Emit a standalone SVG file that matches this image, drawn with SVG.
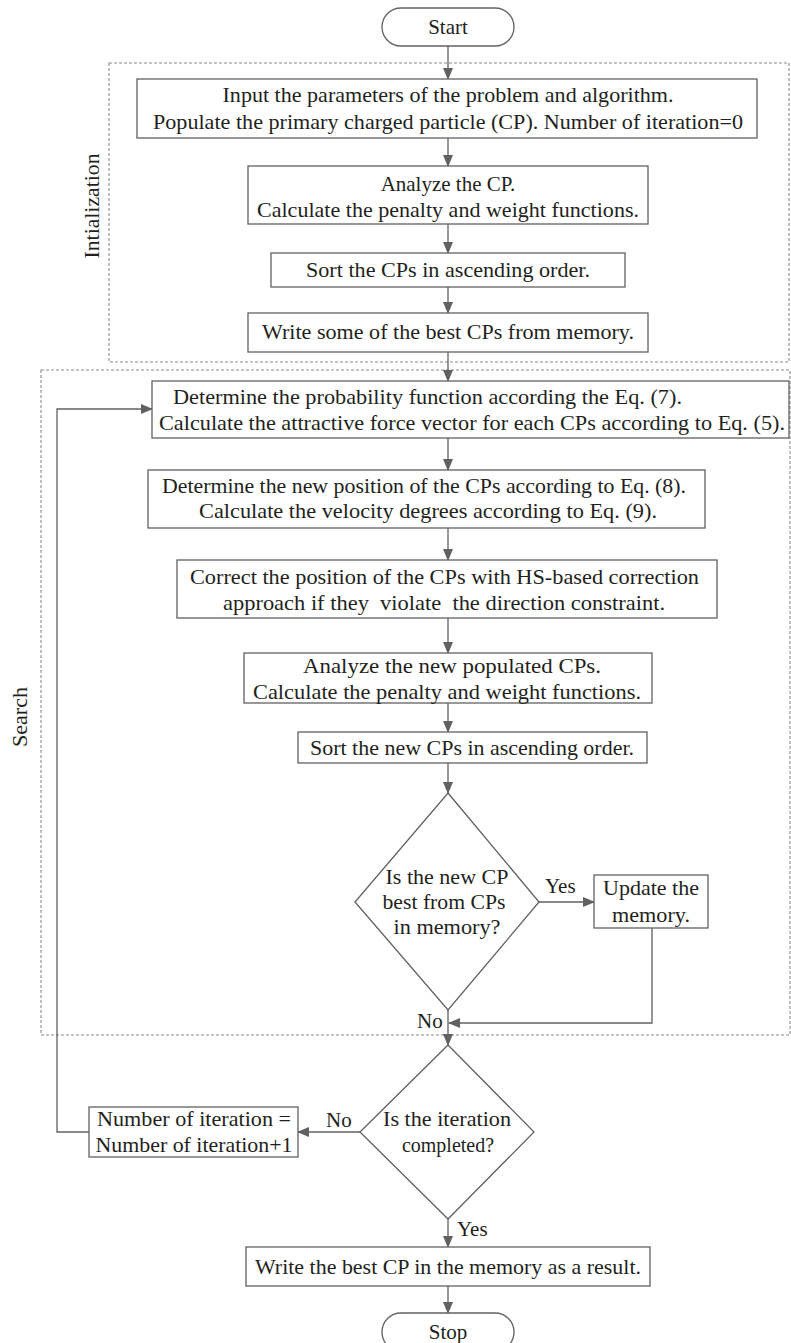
<svg xmlns="http://www.w3.org/2000/svg" width="791" height="1343" viewBox="0 0 791 1343">
<style>
.b{fill:#fff;stroke:#616161;stroke-width:1.3}
.d{fill:none;stroke:#8a8a8a;stroke-width:1.1;stroke-dasharray:3 2}
.c{fill:none;stroke:#616161;stroke-width:1.3}
text{font-family:"Liberation Serif","Times New Roman",serif;font-size:21px;fill:#231f20}
.m{text-anchor:middle}
</style>
<defs>
<marker id="ah" markerWidth="12" markerHeight="10" refX="11" refY="5" orient="auto" markerUnits="userSpaceOnUse">
<path d="M0,0 L12,5 L0,10 z" fill="#616161"/>
</marker>
</defs>
<rect width="791" height="1343" fill="#fff"/>
<g id="groups">
<rect class="d" x="109" y="63" width="680" height="299"/>
<rect class="d" x="41" y="370" width="749" height="665"/>
<text class="m" transform="translate(99,206) rotate(-90)" textLength="105" lengthAdjust="spacingAndGlyphs">Intialization</text>
<text class="m" transform="translate(27,717) rotate(-90)" textLength="60" lengthAdjust="spacingAndGlyphs">Search</text>
</g>
<g id="connectors">
<line class="c" x1="448" y1="46" x2="448" y2="79" marker-end="url(#ah)"/>
<line class="c" x1="448" y1="138" x2="448" y2="166" marker-end="url(#ah)"/>
<line class="c" x1="448" y1="224" x2="448" y2="253" marker-end="url(#ah)"/>
<line class="c" x1="448" y1="287" x2="448" y2="313" marker-end="url(#ah)"/>
<line class="c" x1="448" y1="352" x2="448" y2="381" marker-end="url(#ah)"/>
<line class="c" x1="448" y1="438" x2="448" y2="470" marker-end="url(#ah)"/>
<line class="c" x1="448" y1="528" x2="448" y2="560" marker-end="url(#ah)"/>
<line class="c" x1="448" y1="618" x2="448" y2="653" marker-end="url(#ah)"/>
<line class="c" x1="448" y1="703" x2="448" y2="732" marker-end="url(#ah)"/>
<line class="c" x1="448" y1="763" x2="448" y2="793" marker-end="url(#ah)"/>
<line class="c" x1="539" y1="902" x2="594" y2="902" marker-end="url(#ah)"/>
<polyline class="c" points="652,928 652,1023 449,1023" marker-end="url(#ah)"/>
<line class="c" x1="448" y1="1010" x2="448" y2="1045" marker-end="url(#ah)"/>
<line class="c" x1="360" y1="1132" x2="298" y2="1132" marker-end="url(#ah)"/>
<polyline class="c" points="89,1132 57,1132 57,409 152,409" marker-end="url(#ah)"/>
<line class="c" x1="448" y1="1219" x2="448" y2="1247" marker-end="url(#ah)"/>
<line class="c" x1="448" y1="1286" x2="448" y2="1313" marker-end="url(#ah)"/>
<text x="545" y="893">Yes</text>
<text x="417" y="1028">No</text>
<text x="326" y="1127">No</text>
<text x="457" y="1236">Yes</text>
</g>
<g id="start">
<rect class="b" x="382" y="8" width="132" height="38" rx="19"/>
<text class="m" x="448" y="34">Start</text>
</g>
<g id="input">
<rect class="b" x="137" y="79" width="620" height="59"/>
<text class="m" x="448" y="102" textLength="451" lengthAdjust="spacingAndGlyphs">Input the parameters of the problem and algorithm.</text>
<text class="m" x="448" y="129" textLength="590" lengthAdjust="spacingAndGlyphs">Populate the primary charged particle (CP). Number of iteration=0</text>
</g>
<g id="analyze">
<rect class="b" x="248" y="166" width="400" height="58"/>
<text class="m" x="448" y="191">Analyze the CP.</text>
<text class="m" x="448" y="217" textLength="382" lengthAdjust="spacingAndGlyphs">Calculate the penalty and weight functions.</text>
</g>
<g id="sort">
<rect class="b" x="271" y="253" width="354" height="34"/>
<text class="m" x="448" y="277" textLength="284" lengthAdjust="spacingAndGlyphs">Sort the CPs in ascending order.</text>
</g>
<g id="write">
<rect class="b" x="248" y="313" width="400" height="39"/>
<text class="m" x="448" y="339" textLength="372" lengthAdjust="spacingAndGlyphs">Write some of the best CPs from memory.</text>
</g>
<g id="prob">
<rect class="b" x="152" y="381" width="637" height="57"/>
<text x="173" y="404" textLength="509" lengthAdjust="spacingAndGlyphs">Determine the probability function according the Eq. (7).</text>
<text x="159" y="430" textLength="626" lengthAdjust="spacingAndGlyphs">Calculate the attractive force vector for each CPs according to Eq. (5).</text>
</g>
<g id="position">
<rect class="b" x="148" y="470" width="557" height="58"/>
<text x="162" y="493" textLength="524" lengthAdjust="spacingAndGlyphs">Determine the new position of the CPs according to Eq. (8).</text>
<text x="199" y="518" textLength="458" lengthAdjust="spacingAndGlyphs">Calculate the velocity degrees according to Eq. (9).</text>
</g>
<g id="correct">
<rect class="b" x="177" y="560" width="540" height="58"/>
<text x="190" y="584" textLength="509" lengthAdjust="spacingAndGlyphs">Correct the position of the CPs with HS-based correction</text>
<text x="223" y="610" textLength="442" lengthAdjust="spacingAndGlyphs" xml:space="preserve">approach if they  violate  the direction constraint.</text>
</g>
<g id="analyze2">
<rect class="b" x="244" y="653" width="408" height="50"/>
<text x="303" y="673" textLength="298" lengthAdjust="spacingAndGlyphs">Analyze the new populated CPs.</text>
<text x="253" y="699" textLength="388" lengthAdjust="spacingAndGlyphs">Calculate the penalty and weight functions.</text>
</g>
<g id="sort2">
<rect class="b" x="298" y="732" width="349" height="31"/>
<text x="310" y="755" textLength="324" lengthAdjust="spacingAndGlyphs">Sort the new CPs in ascending order.</text>
</g>
<g id="decision1">
<polygon class="b" points="448,793 539,902 448,1010 355,902"/>
<text class="m" x="447" y="884" textLength="123" lengthAdjust="spacingAndGlyphs">Is the new CP</text>
<text class="m" x="444" y="909" textLength="123" lengthAdjust="spacingAndGlyphs">best from CPs</text>
<text class="m" x="447" y="934" textLength="107" lengthAdjust="spacingAndGlyphs">in memory?</text>
</g>
<g id="update">
<rect class="b" x="594" y="875" width="114" height="53"/>
<text class="m" x="651" y="895" textLength="96" lengthAdjust="spacingAndGlyphs">Update the</text>
<text class="m" x="651" y="922" textLength="78" lengthAdjust="spacingAndGlyphs">memory.</text>
</g>
<g id="decision2">
<polygon class="b" points="448,1045 534,1132 448,1219 360,1132"/>
<text class="m" x="447" y="1126" textLength="128" lengthAdjust="spacingAndGlyphs">Is the iteration</text>
<text class="m" x="448" y="1152" textLength="92" lengthAdjust="spacingAndGlyphs">completed?</text>
</g>
<g id="increment">
<rect class="b" x="89" y="1107" width="209" height="50"/>
<text class="m" x="194" y="1126" textLength="194" lengthAdjust="spacingAndGlyphs">Number of iteration =</text>
<text class="m" x="194" y="1152" textLength="197" lengthAdjust="spacingAndGlyphs">Number of iteration+1</text>
</g>
<g id="result">
<rect class="b" x="246" y="1247" width="404" height="39"/>
<text class="m" x="448" y="1274" textLength="386" lengthAdjust="spacingAndGlyphs">Write the best CP in the memory as a result.</text>
</g>
<g id="stop">
<rect class="b" x="382" y="1313" width="132" height="38" rx="19"/>
<text class="m" x="448" y="1339">Stop</text>
</g>
</svg>
